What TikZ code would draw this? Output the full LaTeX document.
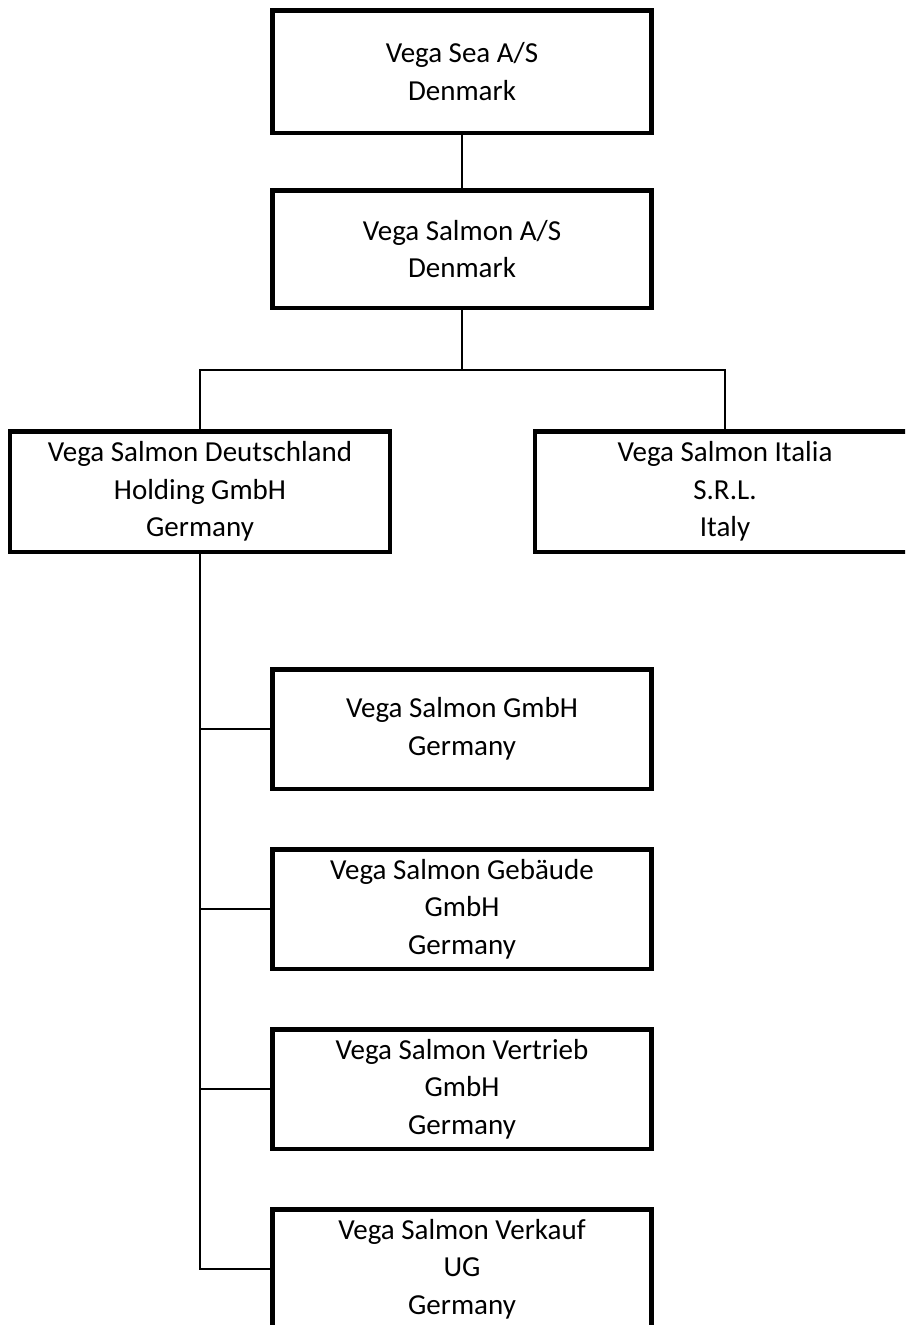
\documentclass[tikz,border=0pt]{standalone}
\usepackage{fontspec}
\setmainfont{Carlito}
\usepackage{tikz}

\tikzset{
  company/.style={draw, line width=4.5pt, minimum width=379pt, minimum height=119.5pt,
    inner sep=2pt, align=center, font=\fontsize{29}{37.5}\selectfont},
  link/.style={line width=1.6pt}
}

\begin{document}
\begin{tikzpicture}[x=1pt, y=-1pt]
        \useasboundingbox (0,0) rectangle (905,1325);
        \clip (0,0) rectangle (905,1325);
        \node[company, minimum height=122.5pt] (sea) at (462,71.5) {Vega Sea A/S\\Denmark};
        \node[company, minimum height=117.5pt] (salmon) at (462,249) {Vega Salmon A/S\\Denmark};
        \node[company, minimum width=380pt, minimum height=120.5pt] (holding) at (200,491.5) {Vega Salmon Deutschland\\Holding GmbH\\Germany};
        \node[company, minimum width=380pt, minimum height=120.5pt] (italia) at (725,491.5) {Vega Salmon Italia\\S.R.L.\\Italy};
        \node[company] (gmbh) at (462,729) {Vega Salmon GmbH\\Germany};
        \node[company] (gebaeude) at (462,909) {Vega Salmon Geb\"aude\\GmbH\\Germany};
        \node[company] (vertrieb) at (462,1089) {Vega Salmon Vertrieb\\GmbH\\Germany};
        \node[company] (verkauf) at (462,1269) {Vega Salmon Verkauf\\UG\\Germany};
        \coordinate (split) at (462,370);
        \draw[link] (sea) -- (salmon);
        \draw[link] (salmon) -- (split);
        \draw[link] (holding) |- (split) -| (italia);
        \draw[link] (holding) |- (gmbh);
        \draw[link] (holding) |- (gebaeude);
        \draw[link] (holding) |- (vertrieb);
        \draw[link] (holding) |- (verkauf);
      \end{tikzpicture}
\end{document}
